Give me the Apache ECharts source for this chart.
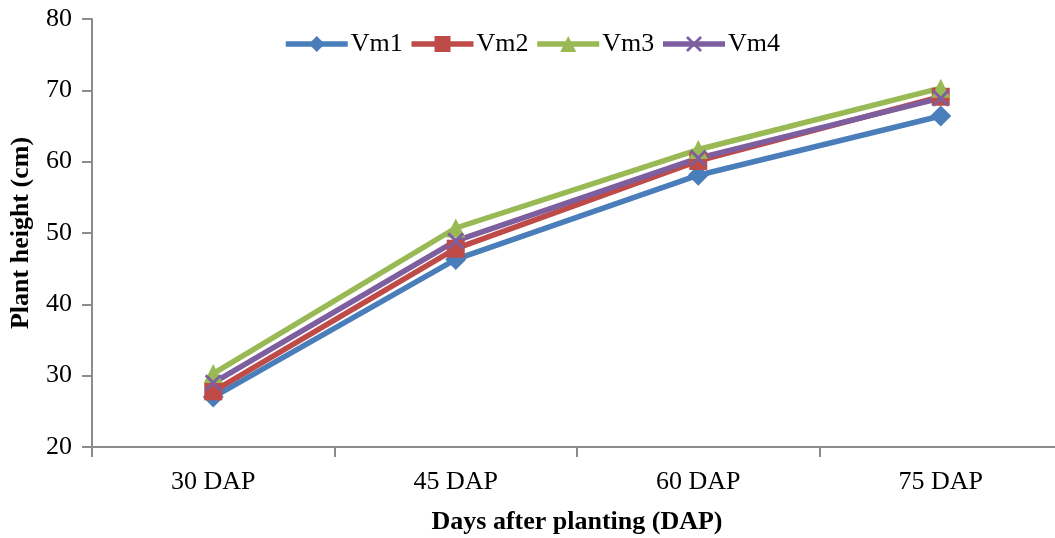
<!DOCTYPE html>
<html>
<head>
<meta charset="utf-8">
<script src="https://cdn.jsdelivr.net/npm/echarts@6/dist/echarts.min.js"></script>
<style>
  html, body { margin: 0; padding: 0; background: #fff; }
  #chart { width: 1055px; height: 538px; }
</style>
</head>
<body>
<div id="chart"></div>
<script>
// categories and series values (cm)
var categories = ["30 DAP", "45 DAP", "60 DAP", "75 DAP"];
var vm1 = [27.0, 46.3, 58.1, 66.4];
var vm2 = [27.8, 47.8, 60.1, 69.1];
var vm3 = [30.3, 50.7, 61.7, 70.3];
var vm4 = [29.0, 48.9, 60.5, 68.9];
var yTicks = { min: 20, max: 80, interval: 10 };

var crossPath = "path://M0,1.2 L1.2,0 L5,3.8 L8.8,0 L10,1.2 L6.2,5 L10,8.8 L8.8,10 L5,6.2 L1.2,10 L0,8.8 L3.8,5 Z";

var myChart = echarts.init(document.getElementById("chart"));

function makeSeries(name, data, color, symbol, size) {
  return {
    name: name,
    type: "line",
    data: data,
    symbol: symbol,
    symbolSize: size,
    lineStyle: { color: color, width: 5.5 },
    itemStyle: { color: color },
    emphasis: { disabled: true },
    animation: false
  };
}

var option = {
  textStyle: { fontFamily: "Liberation Serif" },
  legend: {
    top: 26,
    left: 278,
    itemWidth: 62,
    itemHeight: 20,
    itemGap: 6,
    lineStyle: { width: 5.5 },
    textStyle: { fontFamily: "Liberation Serif", fontSize: 26, color: "#000", padding: [0, 0, 0, -2] },
    data: ["Vm1", "Vm2", "Vm3", "Vm4"]
  },
  grid: {
    left: 92,
    top: 19,
    width: 970,
    height: 428,
    outerBoundsMode: "none",
    containLabel: false
  },
  xAxis: {
    type: "category",
    data: categories,
    boundaryGap: true,
    name: "Days after planting (DAP)",
    nameLocation: "middle",
    nameGap: 62,
    nameTextStyle: { fontFamily: "Liberation Serif", fontSize: 26, fontWeight: "bold", color: "#000" },
    axisLine: { lineStyle: { color: "#8c8c8c", width: 2 } },
    axisTick: { show: true, length: 10, lineStyle: { color: "#8c8c8c", width: 2 } },
    axisLabel: { fontFamily: "Liberation Serif", fontSize: 26, color: "#000", margin: 22 },
    splitLine: { show: false }
  },
  yAxis: {
    type: "value",
    min: yTicks.min,
    max: yTicks.max,
    interval: yTicks.interval,
    name: "Plant height (cm)",
    nameLocation: "middle",
    nameGap: 58,
    nameTextStyle: { fontFamily: "Liberation Serif", fontSize: 26, fontWeight: "bold", color: "#000" },
    axisLine: { show: true, lineStyle: { color: "#8c8c8c", width: 2 } },
    axisTick: { show: true, length: 10, lineStyle: { color: "#8c8c8c", width: 2 } },
    axisLabel: { fontFamily: "Liberation Serif", fontSize: 26, color: "#000", margin: 20 },
    splitLine: { show: false }
  },
  series: [
    makeSeries("Vm1", vm1, "#4a7ebb", "diamond", 21),
    makeSeries("Vm2", vm2, "#be4b48", "rect", 18),
    makeSeries("Vm3", vm3, "#98b954", "triangle", 19),
    makeSeries("Vm4", vm4, "#7d5fa0", crossPath, 17)
  ]
};

myChart.setOption(option);
</script>
</body>
</html>
